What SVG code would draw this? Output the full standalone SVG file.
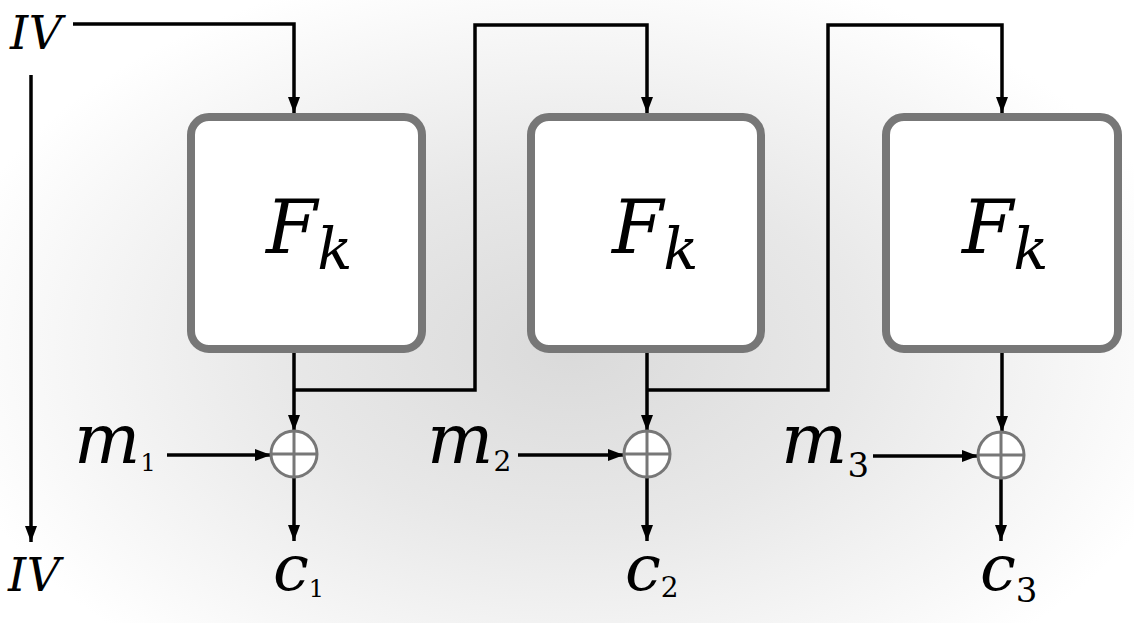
<svg xmlns="http://www.w3.org/2000/svg" width="1134" height="623" viewBox="0 0 1134 623">
<defs>
<radialGradient id="bg" gradientUnits="userSpaceOnUse" cx="570" cy="350" r="640" gradientTransform="translate(570 350) scale(1 0.62) translate(-570 -350)">
<stop offset="0" stop-color="#dadada"/>
<stop offset="0.45" stop-color="#e8e8e8"/>
<stop offset="1" stop-color="#ffffff"/>
</radialGradient>
<marker id="ah" markerUnits="userSpaceOnUse" markerWidth="16" markerHeight="16" viewBox="0 0 16 16" refX="16" refY="8" orient="auto">
<path d="M0,2 L16,8 L0,14 Z" fill="#000"/>
</marker>
</defs>
<style>
.box{fill:#fff;stroke:#777;stroke-width:8}
.xor{fill:#fff;stroke:#777;stroke-width:3}
.xl{stroke:#777;stroke-width:3}
.c{fill:none;stroke:#000;stroke-width:3.5}
.a{marker-end:url(#ah)}
text{fill:#000;font-family:'DejaVu Serif',serif;font-style:italic}
tspan.n{font-style:normal}
</style>
<rect x="0" y="0" width="1134" height="623" fill="url(#bg)"/>
<g id="connectors">
<path class="c a" d="M73,24 H294 V113"/>
<path class="c a" d="M31,75 V542"/>
<path class="c a" d="M294,353 V431"/>
<path class="c a" d="M294,390 H475 V25 H647 V113"/>
<path class="c a" d="M647,353 V431"/>
<path class="c a" d="M647,390 H828 V25 H1002 V113"/>
<path class="c a" d="M1002,353 V432"/>
<path class="c a" d="M167,455 H271"/>
<path class="c a" d="M518,455 H624"/>
<path class="c a" d="M873,456 H978"/>
<path class="c a" d="M294,478 V541"/>
<path class="c a" d="M647,478 V541"/>
<path class="c a" d="M1001,479 V541"/>
</g>
<g id="iv-top"><text x="10" y="49" font-size="46" textLength="52">IV</text></g>
<g id="iv-bottom"><text x="8" y="591" font-size="46" textLength="52">IV</text></g>
<g id="f1">
<rect class="box" x="191" y="117" width="231" height="232" rx="18"/>
<text x="266" y="253" font-size="74">F<tspan font-size="58" dy="16">k</tspan></text>
</g>
<g id="f2">
<rect class="box" x="531" y="117" width="230" height="232" rx="18"/>
<text x="612" y="253" font-size="74">F<tspan font-size="58" dy="16">k</tspan></text>
</g>
<g id="f3">
<rect class="box" x="886" y="117" width="232" height="232" rx="18"/>
<text x="962" y="253" font-size="74">F<tspan font-size="58" dy="16">k</tspan></text>
</g>
<g id="xor1">
<circle class="xor" cx="294" cy="454" r="23"/>
<path class="xl" d="M294,431 V477 M271,454 H317"/>
</g>
<g id="xor2">
<circle class="xor" cx="647" cy="454" r="23"/>
<path class="xl" d="M647,431 V477 M624,454 H670"/>
</g>
<g id="xor3">
<circle class="xor" cx="1001" cy="455" r="23"/>
<path class="xl" d="M1001,432 V478 M978,455 H1024"/>
</g>
<g id="m1"><text x="74" y="463" font-size="70">m<tspan class="n" font-size="24" dy="8">1</tspan></text></g>
<g id="m2"><text x="427" y="463" font-size="70">m<tspan class="n" font-size="28" dy="8">2</tspan></text></g>
<g id="m3"><text x="781" y="463" font-size="70">m<tspan class="n" font-size="34" dy="14">3</tspan></text></g>
<g id="c1"><text x="273" y="590" font-size="64">c<tspan class="n" font-size="24" dy="7">1</tspan></text></g>
<g id="c2"><text x="625" y="590" font-size="64">c<tspan class="n" font-size="28" dy="7">2</tspan></text></g>
<g id="c3"><text x="980" y="590" font-size="64">c<tspan class="n" font-size="34" dy="12">3</tspan></text></g>
</svg>
